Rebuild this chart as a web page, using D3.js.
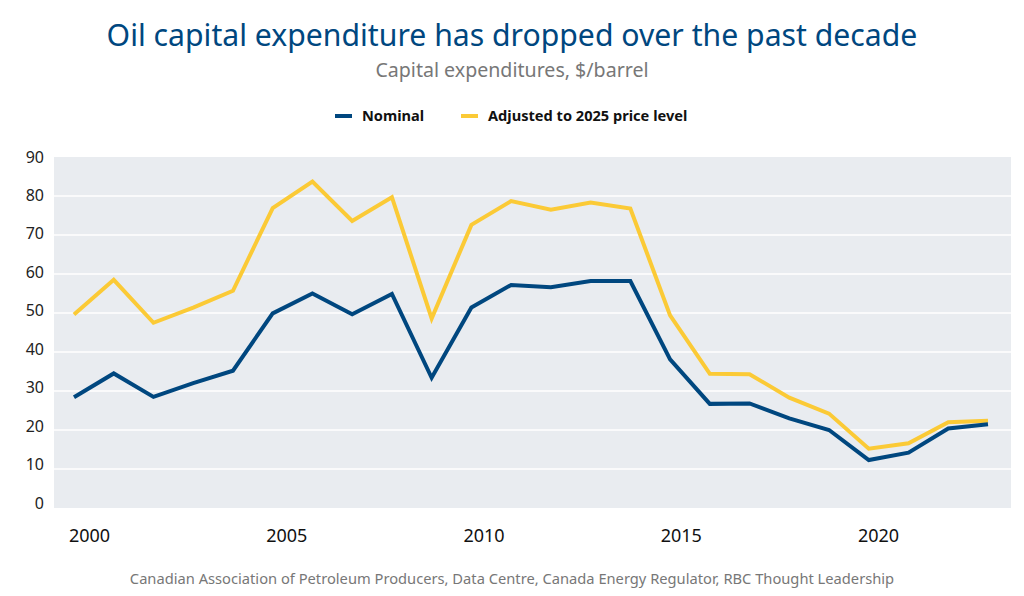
<!DOCTYPE html>
<meta charset="utf-8">
<style>
  body { margin: 0; background: #fff; }
  text { font-family: "Noto Sans", "Open Sans", sans-serif; }
</style>
<body>
  <script src="https://d3js.org/d3.v7.min.js"></script>
  <script>
    // data
    var years = d3.range(2000, 2024);
    var nominal = [28.4, 34.5, 28.5, 32.0, 35.2, 49.9, 55.0, 49.7, 54.9, 33.4, 51.4, 57.2,
      56.6, 58.2, 58.2, 38.1, 26.7, 26.8, 23.0, 20.0, 12.3, 14.2, 20.4, 21.5];
    var adjusted = [49.6, 58.5, 47.5, 51.4, 55.7, 76.9, 83.7, 73.6, 79.7, 48.6, 72.6, 78.7,
      76.5, 78.3, 76.8, 49.4, 34.4, 34.3, 28.3, 24.2, 15.2, 16.6, 22.0, 22.4];
    var yTicks = [0, 10, 20, 30, 40, 50, 60, 70, 80, 90];
    var xTicks = [2000, 2005, 2010, 2015, 2020];
    var seriesNames = ["Nominal", "Adjusted to 2025 price level"];
    var seriesColors = ["#00477f", "#fbca36"];

    var W = 1024, H = 596;
    var plot = { left: 54, right: 1011, top: 157, bottom: 508 };

    var svg = d3.select("body").append("svg")
      .attr("width", W)
      .attr("height", H);

    var x = d3.scaleLinear().domain([2000, 2023]).range([74, 988]);
    var y = d3.scaleLinear().domain([0, 90]).range([plot.bottom, plot.top]);
    // tick labels sit on a slightly tighter spacing than the marks
    var xLab = d3.scaleLinear().domain([2000, 2020]).range([89.5, 878.5]);
    var yLab = d3.scaleLinear().domain([0, 90]).range([503, 157]);

    // plot background
    svg.append("rect")
      .attr("x", plot.left)
      .attr("y", plot.top)
      .attr("width", plot.right - plot.left)
      .attr("height", plot.bottom - plot.top)
      .style("fill", "#e9ecf0");

    // gridlines
    svg.selectAll(".grid")
      .data(yTicks.filter(function(d) { return d > 0 && d < 90; }))
      .enter().append("line")
      .attr("class", "grid")
      .attr("x1", plot.left)
      .attr("x2", plot.right)
      .attr("y1", function(d) { return y(d); })
      .attr("y2", function(d) { return y(d); })
      .style("stroke", "#fff")
      .style("stroke-width", 1.5);

    // y labels
    svg.selectAll(".ylab")
      .data(yTicks)
      .enter().append("text")
      .attr("class", "ylab")
      .attr("x", 44)
      .attr("y", function(d) { return yLab(d); })
      .attr("dy", "0.35em")
      .attr("text-anchor", "end")
      .style("font-size", "16px")
      .style("fill", "#222")
      .text(function(d) { return d; });

    // x labels
    svg.selectAll(".xlab")
      .data(xTicks)
      .enter().append("text")
      .attr("class", "xlab")
      .attr("x", function(d) { return xLab(d); })
      .attr("y", 536)
      .attr("dy", "0.35em")
      .attr("text-anchor", "middle")
      .style("font-size", "18px")
      .style("fill", "#111")
      .text(function(d) { return d; });

    // lines
    var line = d3.line()
      .x(function(d, i) { return x(years[i]); })
      .y(function(d) { return y(d); });

    [adjusted, nominal].forEach(function(s, k) {
      svg.append("path")
        .datum(s)
        .attr("d", line)
        .style("fill", "none")
        .style("stroke", k === 0 ? seriesColors[1] : seriesColors[0])
        .style("stroke-width", 4)
        .style("stroke-linejoin", "miter");
    });

    // title + subtitle
    svg.append("text")
      .attr("x", 512)
      .attr("y", 35)
      .attr("dy", "0.35em")
      .attr("text-anchor", "middle")
      .style("font-size", "30.2px")
      .style("fill", "#00477f")
      .text("Oil capital expenditure has dropped over the past decade");

    svg.append("text")
      .attr("x", 512)
      .attr("y", 70)
      .attr("dy", "0.35em")
      .attr("text-anchor", "middle")
      .style("font-size", "19.6px")
      .style("fill", "#777")
      .text("Capital expenditures, $/barrel");

    // legend
    var legendX = [335, 461];
    var lg = svg.selectAll(".legend")
      .data(seriesNames)
      .enter().append("g")
      .attr("class", "legend")
      .attr("transform", function(d, i) { return "translate(" + legendX[i] + ",116)"; });

    lg.append("line")
      .attr("x1", 0)
      .attr("x2", 17)
      .style("stroke", function(d, i) { return seriesColors[i]; })
      .style("stroke-width", 4);

    lg.append("text")
      .attr("x", 27)
      .attr("dy", "0.35em")
      .style("font-size", "14.6px")
      .style("font-weight", "bold")
      .style("fill", "#111")
      .text(function(d) { return d; });

    // source
    svg.append("text")
      .attr("x", 512)
      .attr("y", 579)
      .attr("dy", "0.35em")
      .attr("text-anchor", "middle")
      .style("font-size", "14.7px")
      .style("fill", "#777")
      .text("Canadian Association of Petroleum Producers, Data Centre, Canada Energy Regulator, RBC Thought Leadership");
  </script>
</body>
